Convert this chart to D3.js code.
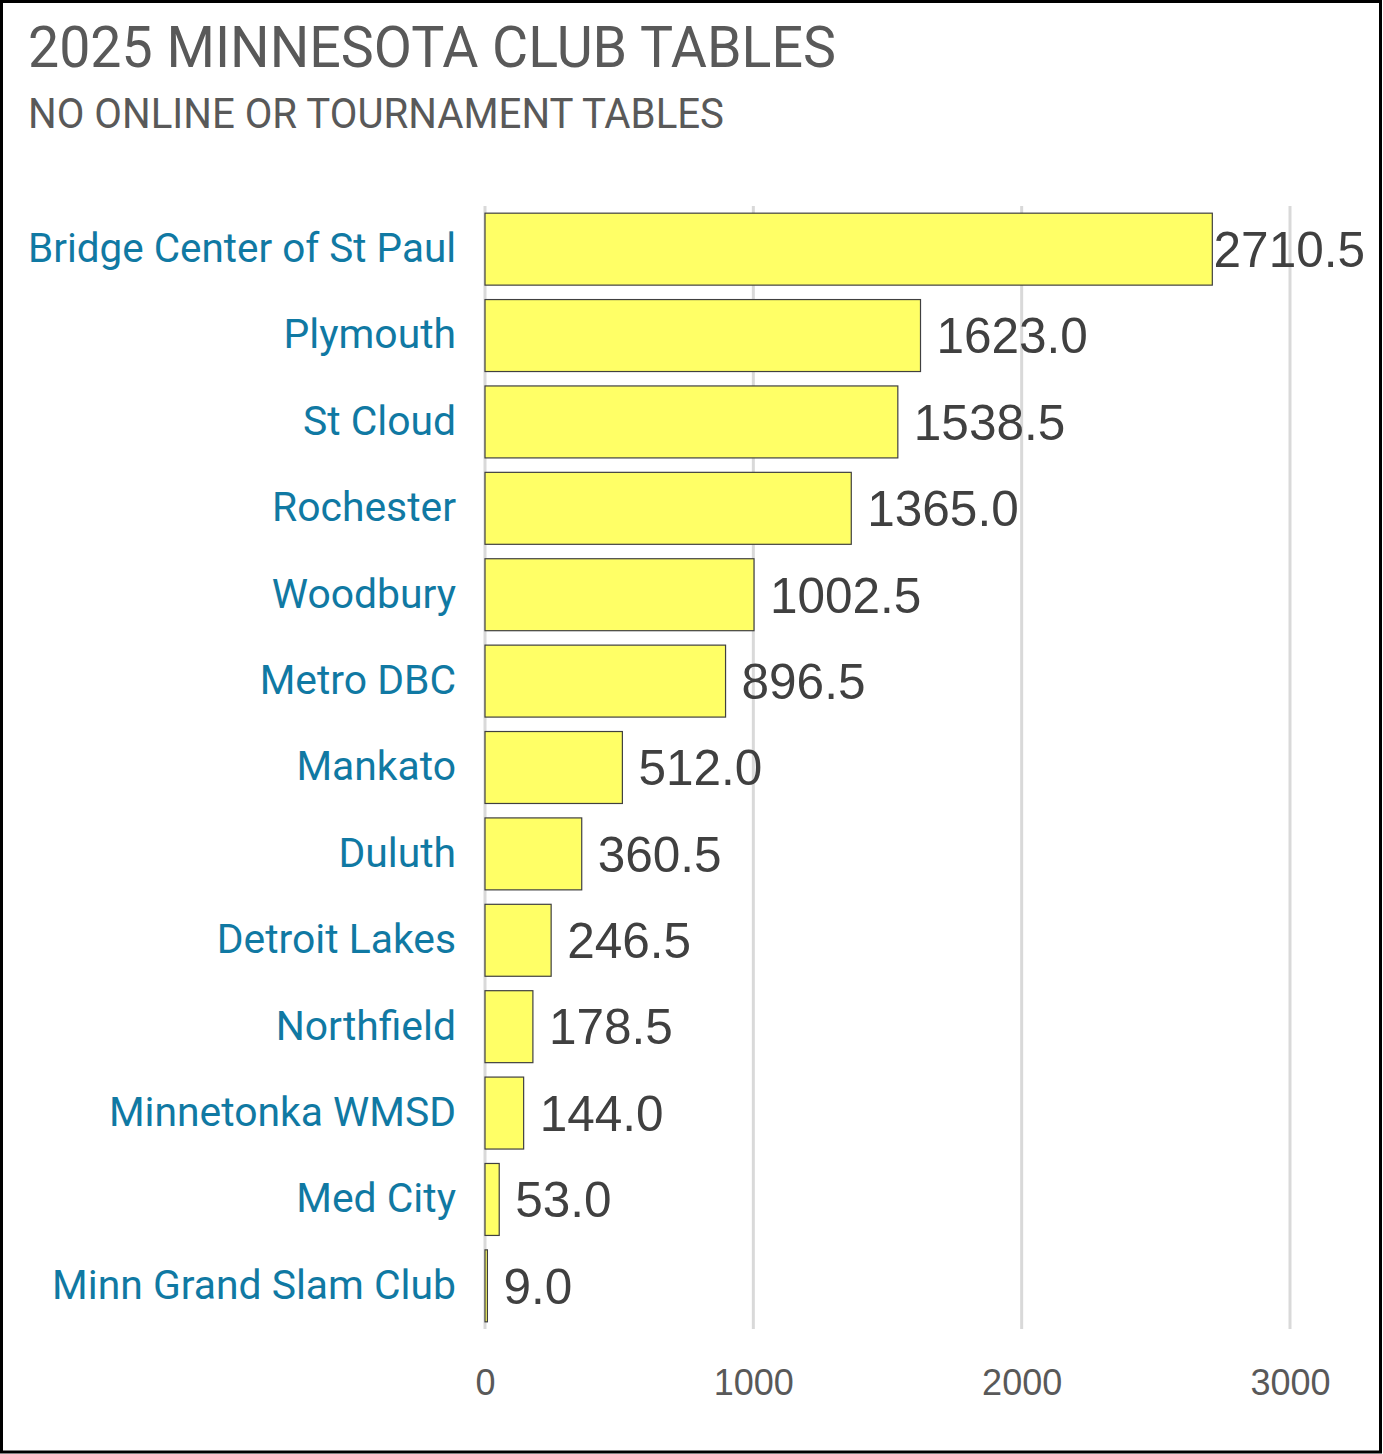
<!DOCTYPE html>
<html>
<head>
<meta charset="utf-8">
<script src="https://cdn.jsdelivr.net/npm/d3@7"></script>
<style>
  body { margin: 0; background: #fff; }
  svg { display: block; }
</style>
</head>
<body>
<script>
// data
const clubs = [
  'Bridge Center of St Paul', 'Plymouth', 'St Cloud', 'Rochester', 'Woodbury',
  'Metro DBC', 'Mankato', 'Duluth', 'Detroit Lakes', 'Northfield',
  'Minnetonka WMSD', 'Med City', 'Minn Grand Slam Club'
];
const tables = [2710.5, 1623.0, 1538.5, 1365.0, 1002.5, 896.5, 512.0, 360.5, 246.5, 178.5, 144.0, 53.0, 9.0];
const xTicks = [0, 1000, 2000, 3000];
const title = '2025 MINNESOTA CLUB TABLES';
const subtitle = 'NO ONLINE OR TOURNAMENT TABLES';

const w = 1383, h = 1454;
const plotLeft = 485, plotRight = 1290, plotTop = 206, plotBottom = 1329;

const svg = d3.select('body').append('svg')
  .attr('width', w)
  .attr('height', h);

// frame
svg.append('rect')
  .attr('x', 1.5).attr('y', 1.5)
  .attr('width', w - 4).attr('height', h - 3.5)
  .attr('fill', '#fff')
  .attr('stroke', '#000')
  .attr('stroke-width', 3);

// squeeze text horizontally to a narrow look
function squeeze(sel, k) {
  sel.each(function () {
    const len = this.getComputedTextLength();
    d3.select(this).attr('textLength', len * k).attr('lengthAdjust', 'spacingAndGlyphs');
  });
}

// titles
svg.append('text')
  .attr('x', 28).attr('y', 67)
  .attr('font-family', 'Roboto')
  .attr('font-size', 57)
  .attr('fill', '#595959')
  .text(title)
  .attr('textLength', 808).attr('lengthAdjust', 'spacingAndGlyphs');

svg.append('text')
  .attr('x', 28).attr('y', 128)
  .attr('font-family', 'Roboto')
  .attr('font-size', 42)
  .attr('fill', '#595959')
  .text(subtitle)
  .attr('textLength', 696).attr('lengthAdjust', 'spacingAndGlyphs');

// scales
const x = d3.scaleLinear().domain([0, 3000]).range([plotLeft, plotRight]);
const y = d3.scaleBand().domain(clubs).range([plotTop, plotBottom]).paddingInner(0.167).paddingOuter(0.083);

// gridlines
svg.append('g')
  .selectAll('line')
  .data(xTicks)
  .enter()
  .append('line')
  .attr('x1', d => x(d)).attr('x2', d => x(d))
  .attr('y1', plotTop).attr('y2', plotBottom)
  .attr('stroke', '#d9d9d9')
  .attr('stroke-width', 3);

// x axis tick labels
const xAxis = svg.append('g')
  .attr('transform', `translate(0, ${plotBottom + 66})`)
  .call(d3.axisBottom(x).tickValues(xTicks).tickSize(0).tickPadding(0).tickFormat(d3.format('d')));
xAxis.select('.domain').remove();
xAxis.selectAll('text')
  .attr('font-family', 'Liberation Sans, Arial')
  .attr('font-size', 36)
  .attr('fill', '#595959')
  .attr('dy', 0);

// bars
svg.append('g')
  .selectAll('rect')
  .data(tables)
  .enter()
  .append('rect')
  .attr('x', x(0))
  .attr('y', (d, i) => y(clubs[i]))
  .attr('width', d => x(d) - x(0))
  .attr('height', y.bandwidth())
  .attr('fill', '#ffff66')
  .attr('stroke', '#404040')
  .attr('stroke-width', 1.2);

// category labels
const cats = svg.append('g')
  .selectAll('text')
  .data(clubs)
  .enter()
  .append('text')
  .attr('x', 456)
  .attr('y', d => y(d) + y.bandwidth() / 2)
  .attr('dy', '0.31em')
  .attr('text-anchor', 'end')
  .attr('font-family', 'Roboto')
  .attr('font-size', 41.5)
  .attr('fill', '#1079a3')
  .text(d => d);
const firstLen = cats.node().getComputedTextLength();
squeeze(cats, 428 / firstLen * 1.01);
cats.filter((d, i) => i === 0).attr('textLength', 428);

// value labels
svg.append('g')
  .selectAll('text')
  .data(tables)
  .enter()
  .append('text')
  .attr('y', (d, i) => y(clubs[i]) + y.bandwidth() / 2)
  .attr('dy', '0.36em')
  .attr('font-family', 'Liberation Sans, Arial')
  .attr('font-size', 49.5)
  .attr('fill', '#404040')
  .text(d => d3.format('.1f')(d))
  .each(function (d) {
    const len = this.getComputedTextLength();
    const px = Math.min(x(d) + 16, 1365 - len);
    d3.select(this).attr('x', px);
  });
</script>
</body>
</html>
